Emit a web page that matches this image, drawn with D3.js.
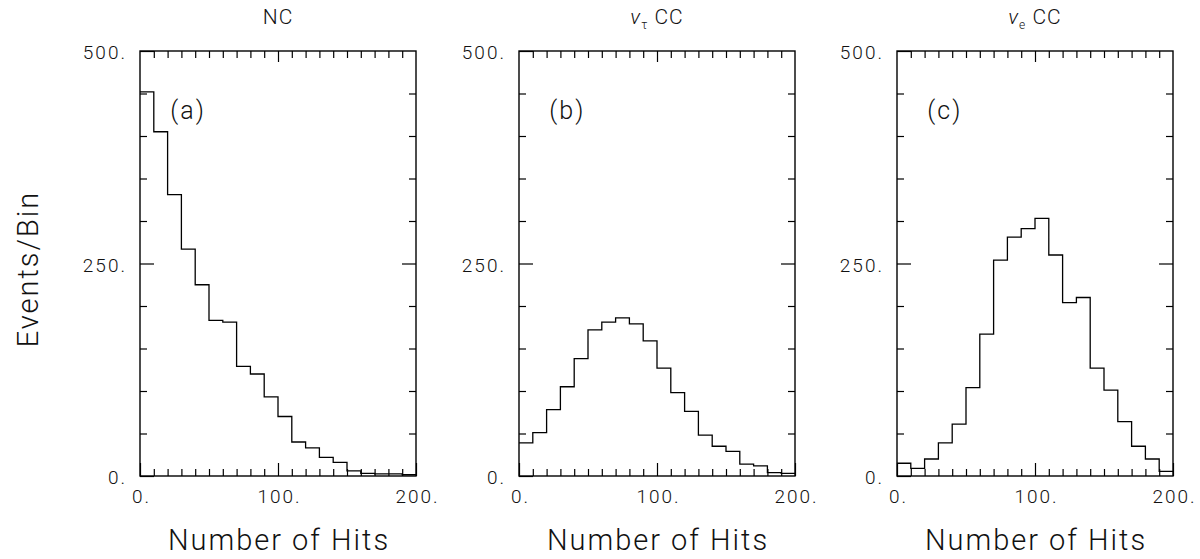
<!DOCTYPE html>
<html lang="en">
<head>
    <meta charset="UTF-8">
    <title>Number of Hits</title>
    <script src="https://d3js.org/d3.v7.min.js"></script>
    <style>
        body { margin: 0; background: #fff; }
        svg text { font-family: "Roboto", "DejaVu Sans", sans-serif; font-weight: 300; fill: #111; }
        .frame { fill: none; stroke: #000; stroke-width: 1.4; }
        .hist { fill: none; stroke: #000; stroke-width: 1.3; }
        .tick line { stroke: #000; stroke-width: 1.2; }
        .domain { display: none; }
    </style>
</head>
<body>

<svg width="1200" height="559"></svg>

<script>

    // bins of 10 hits, 0..200
    var binEdges = d3.range(0, 200, 10);

    var ncValues  = [452, 405, 331, 267, 225, 183, 181, 129, 120, 93,
                     70, 40, 33, 22, 16, 6, 3, 2.5, 2.5, 1.5];
    var tauValues = [39, 51, 78, 105, 138, 172, 181, 186, 179, 159,
                     127, 98, 76, 48, 35, 29, 14, 12, 4, 3];
    var nueValues = [15, 9, 20, 39, 61, 104, 167, 254, 281, 291,
                     303, 260, 204, 210, 127, 101, 64, 35, 20, 5.5];

    var panelTitles = ["NC", "τ", "e"];
    var panelTags = ["(a)", "(b)", "(c)"];
    var yTicksMajor = [0, 250, 500];
    var xTicksMajor = [0, 100, 200];

    var svg = d3.select("svg");
    var panelLeft = [140, 519, 897],
        panelW = 276,
        plotTop = 51, plotBottom = 476;

    var series = [ncValues, tauValues, nueValues];

    series.forEach(function(values, idx) {
        var g = svg.append("g")
            .attr("transform", "translate(" + panelLeft[idx] + ",0)");

        var x = d3.scaleLinear().domain([0, 200]).range([0, panelW]);
        var y = d3.scaleLinear().domain([0, 500]).range([plotBottom, plotTop]);

        // minor ticks, pointing inward on all four sides
        var minorX = d3.range(10, 200, 10).filter(function(v){ return v !== 100; });
        var minorY = d3.range(50, 500, 50).filter(function(v){ return v !== 250; });

        g.append("g").attr("transform", "translate(0," + plotBottom + ")")
            .call(d3.axisBottom(x).tickValues(minorX).tickSize(-7).tickFormat(""));
        g.append("g").attr("transform", "translate(0," + plotTop + ")")
            .call(d3.axisTop(x).tickValues(minorX).tickSize(-7).tickFormat(""));
        g.append("g")
            .call(d3.axisLeft(y).tickValues(minorY).tickSize(-7).tickFormat(""));
        g.append("g").attr("transform", "translate(" + panelW + ",0)")
            .call(d3.axisRight(y).tickValues(minorY).tickSize(-7).tickFormat(""));

        // major ticks with labels
        var xb = g.append("g").attr("transform", "translate(0," + plotBottom + ")")
            .call(d3.axisBottom(x).tickValues(xTicksMajor).tickSize(-13).tickPadding(14)
                .tickFormat(function(d){ return d + "."; }));
        xb.selectAll("text").style("font-size", "19px").style("letter-spacing", "2px")
            .attr("dx", "1px");
        g.append("g").attr("transform", "translate(0," + plotTop + ")")
            .call(d3.axisTop(x).tickValues([100]).tickSize(-11).tickFormat(""));
        var yl = g.append("g")
            .call(d3.axisLeft(y).tickValues(yTicksMajor).tickSize(-14).tickPadding(13)
                .tickFormat(function(d){ return d + "."; }));
        yl.selectAll("text").style("font-size", "19px").style("letter-spacing", "2px")
            .attr("dy", "0.42em");
        g.append("g").attr("transform", "translate(" + panelW + ",0)")
            .call(d3.axisRight(y).tickValues([250]).tickSize(-14).tickFormat(""));

        g.selectAll(".tick text").attr("font-family", null);

        // frame
        g.append("rect")
            .attr("x", 0).attr("y", plotTop)
            .attr("width", panelW).attr("height", plotBottom - plotTop)
            .classed("frame", true);

        // histogram
        var pts = binEdges.map(function(b, i){ return [b, values[i]]; });
        pts.push([200, values[values.length - 1]]);
        var line = d3.line()
            .x(function(d){ return x(d[0]); })
            .y(function(d){ return y(d[1]); })
            .curve(d3.curveStepAfter);
        g.append("path").datum(pts).attr("d", line).classed("hist", true);

        // tag (a) (b) (c)
        g.append("text")
            .attr("x", x(22))
            .attr("y", y(420))
            .style("font-size", "25px")
            .style("letter-spacing", "2px")
            .text(panelTags[idx]);

        // title
        var t = g.append("text")
            .attr("x", panelW / 2)
            .attr("y", 24)
            .attr("text-anchor", "middle")
            .style("font-size", "21px")
            .style("letter-spacing", "1px");
        if (idx === 0) {
            t.text(panelTitles[0]);
        } else {
            t.append("tspan").style("font-style", "italic").text("ν");
            t.append("tspan").attr("dy", 5).style("font-size", "12px").text(panelTitles[idx]);
            t.append("tspan").attr("dy", -5).text(" CC");
        }

        // x axis title
        g.append("text")
            .attr("x", panelW / 2 + 1)
            .attr("y", 550)
            .attr("text-anchor", "middle")
            .style("font-size", "29px")
            .style("letter-spacing", "2px")
            .text("Number of Hits");
    });

    svg.append("text")
        .attr("transform", "translate(38,269) rotate(-90)")
        .attr("text-anchor", "middle")
        .style("font-size", "29px")
        .style("letter-spacing", "2px")
        .text("Events/Bin");

</script>

</body>
</html>
